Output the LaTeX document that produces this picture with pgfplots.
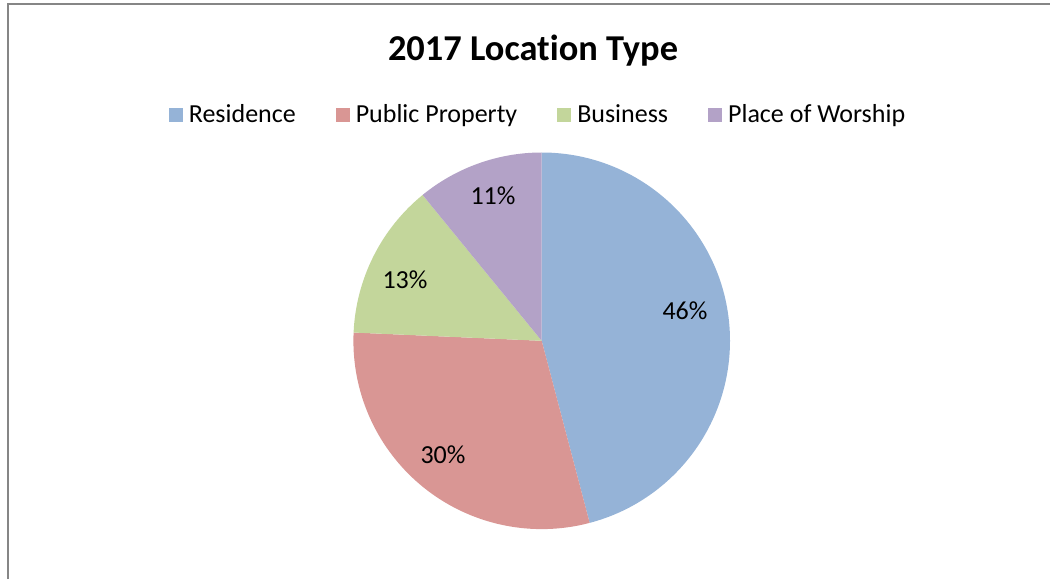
\documentclass[border=0pt]{standalone}
\usepackage{fontspec}
\setmainfont{Carlito}[Ligatures=NoCommon]
\usepackage{pgfplots}
\usepackage{pgfplotstable}
\pgfplotsset{compat=1.18}
\definecolor{cRes}{HTML}{95B3D7}
\definecolor{cPub}{HTML}{D99694}
\definecolor{cBus}{HTML}{C3D69B}
\definecolor{cWor}{HTML}{B3A2C7}
\definecolor{frameC}{HTML}{868686}

% value = share in percent; lx, ly = label position (px, y from bottom)
\pgfplotstableread{
value col lx ly lab
45.9 cRes 685 268 46
29.8 cPub 443 124 30
13.4 cBus 405 299 13
10.9 cWor 493 383 11
}\piedata

\begin{document}
\begin{tikzpicture}
\begin{axis}[
  at={(0,0)}, anchor=south west,
  scale only axis, width=525pt, height=289.5pt,
  xmin=0, xmax=1050, ymin=0, ymax=579,
  hide axis, clip=false,
  legend columns=4,
  legend image code/.code={\fill (0pt,-3.5pt) rectangle (7pt,3.5pt);},
  legend style={at={(0.5143,0.801)}, anchor=center, draw=none, fill=none,
    font=\fontsize{13}{15.6}\selectfont,
    nodes={inner xsep=3pt, inner ysep=1pt},
    /tikz/every even column/.append style={column sep=17pt}},
]
\addlegendimage{fill=cRes, draw=none}
\addlegendentry{Residence}
\addlegendimage{fill=cPub, draw=none}
\addlegendentry{Public Property}
\addlegendimage{fill=cBus, draw=none}
\addlegendentry{Business}
\addlegendimage{fill=cWor, draw=none}
\addlegendentry{Place of Worship}

\gdef\cum{90}
\pgfplotsinvokeforeach{0,1,2,3}{%
  \pgfplotstablegetelem{#1}{value}\of\piedata \let\va\pgfplotsretval
  \pgfplotstablegetelem{#1}{col}\of\piedata \let\co\pgfplotsretval
  \pgfmathsetmacro\st{\cum}%
  \pgfmathsetmacro\en{\cum-3.6*\va}%
  \xdef\cum{\en}%
  \edef\cmd{\noexpand\fill[fill=\co] (axis cs:541.7,238.2) -- ++(\st:94.15pt) arc[start angle=\st, end angle=\en, radius=94.15pt] -- cycle;}%
  \cmd
}
\pgfplotsinvokeforeach{0,1,2,3}{%
  \pgfplotstablegetelem{#1}{lx}\of\piedata \let\lx\pgfplotsretval
  \pgfplotstablegetelem{#1}{ly}\of\piedata \let\ly\pgfplotsretval
  \pgfplotstablegetelem{#1}{lab}\of\piedata \let\lb\pgfplotsretval
  \edef\cmd{\noexpand\node[font=\noexpand\fontsize{13}{15.6}\noexpand\selectfont, inner sep=0pt] at (axis cs:\lx,\ly) {\lb\noexpand\%};}%
  \cmd
}
\node[font=\fontsize{18.2}{22}\selectfont\bfseries, anchor=base, inner sep=0pt] at (axis cs:533,518) {2017 Location Type};
\draw[frameC, line width=1pt] (axis cs:7.5,0) -- (axis cs:7.5,574.7) -- (axis cs:1050,574.7);
\end{axis}
\pgfresetboundingbox
\useasboundingbox (0,0) rectangle (525pt,289.5pt);
\end{tikzpicture}
\end{document}
